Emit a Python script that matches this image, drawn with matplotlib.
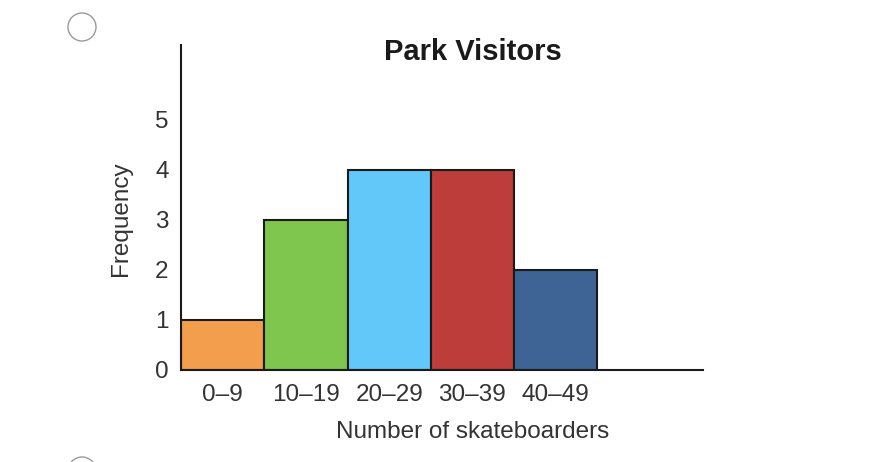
import matplotlib
matplotlib.use('Agg')
import matplotlib.pyplot as plt
from matplotlib.patches import Ellipse

plt.rcParams['font.family'] = ['Liberation Sans', 'DejaVu Sans']

# data kelompok dan frekuensi
kelompok = ['0\u20139', '10\u201319', '20\u201329', '30\u201339', '40\u201349']
frekuensi = [1, 3, 4, 4, 2]
warna = ['#F29E4C', '#7FC64F', '#62C8F9', '#BD3D3A', '#3D6494']
y_ticks = [0, 1, 2, 3, 4, 5]

W, H = 876, 462
fig = plt.figure(figsize=(W / 100, H / 100), dpi=100)
ax = fig.add_axes([181 / W, 1 - 370 / H, (703 - 181) / W, (370 - 45) / H])

posisi = list(range(len(kelompok)))
ax.bar(posisi, frekuensi, width=1, align='edge', color=warna,
       edgecolor='#1a1a1a', linewidth=1.5)

ax.set_xlim(0, 6.27)
ax.set_ylim(0, 6.5)
ax.set_xticks([p + 0.5 for p in posisi])
ax.set_xticklabels(kelompok)
ax.set_yticks(y_ticks)
ax.tick_params(length=0, labelsize=17.5, colors='#333333')
ax.tick_params(axis='x', pad=10)
ax.tick_params(axis='y', pad=9)

for s in ['top', 'right']:
    ax.spines[s].set_visible(False)
for s in ['left', 'bottom']:
    ax.spines[s].set_linewidth(1.5)
    ax.spines[s].set_color('#1a1a1a')

# judul dan label sumbu
fig.text(473 / W, 1 - 52 / H, 'Park Visitors', ha='center', va='center',
         fontsize=21, fontweight='bold', color='#1a1a1a')
fig.text(473 / W, 1 - 432 / H, 'Number of skateboarders', ha='center',
         va='center', fontsize=17.5, color='#333333')
fig.text(121 / W, 1 - 219 / H, 'Frequency', ha='center', va='center',
         rotation=90, fontsize=17.5, color='#333333')

# lingkaran pilihan jawaban
for cy in [27, 471]:
    fig.add_artist(Ellipse((82 / W, 1 - cy / H), 28 / W, 28 / H,
                           transform=fig.transFigure, fill=False,
                           edgecolor='#9a9a9a', linewidth=1.0))

fig.savefig('out.png', dpi=100)
